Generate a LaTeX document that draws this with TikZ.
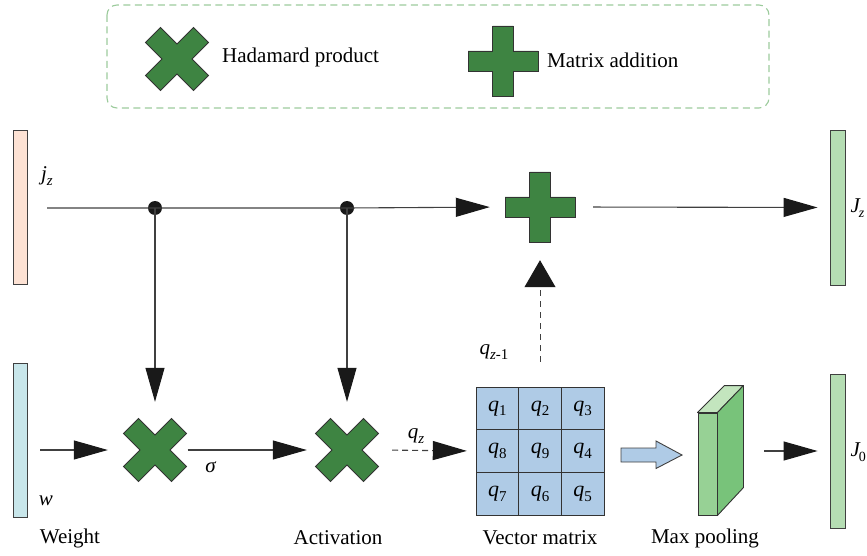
\documentclass[tikz,border=0pt]{standalone}
\usepackage{fontspec}
\setmainfont{Liberation Serif}
\usetikzlibrary{arrows.meta}
\definecolor{crossgreen}{HTML}{3E8442}
\definecolor{legendgreen}{HTML}{9CCB9C}
\definecolor{peach}{HTML}{FDE2D4}
\definecolor{cyanbar}{HTML}{C8E6EA}
\definecolor{greenbar}{HTML}{B5DDB3}
\definecolor{cellblue}{HTML}{AFCBE6}
\definecolor{poolfront}{HTML}{97D195}
\definecolor{poolside}{HTML}{78C37A}
\definecolor{pooltop}{HTML}{C3E5BE}
\definecolor{linegray}{HTML}{404040}
\newcommand\lbl[2]{\textit{#1}\raisebox{-0.22em}{\fontsize{15}{15}\selectfont #2}}
\newcommand\lblJ[2]{\textit{#1}\kern-2pt\raisebox{-0.22em}{\fontsize{14}{14}\selectfont #2}}
\tikzset{
  glyph/.style={fill=crossgreen,draw=black!80,line width=0.9pt,line join=miter},
  holder/.style={draw=none,minimum size=#1,inner sep=0pt},
  bar/.style={draw=black!75,line width=0.9pt,minimum width=14pt,minimum height=154pt,inner sep=0pt},
  txt/.style={font=\fontsize{21}{25}\selectfont,inner sep=0pt},
  cell/.style={draw=black!80,line width=0.9pt,fill=cellblue,minimum size=42.67pt,inner sep=0pt,font=\fontsize{22}{25}\selectfont},
  conn/.style={draw=linegray,line width=1.1pt},
  tip/.style={-{Triangle[length=34pt,width=19pt,color=black!90]}},
  uptip/.style={-{Triangle[length=27pt,width=31pt,color=black!90]}},
  dot/.style={circle,fill=black!90,inner sep=0pt,minimum size=14pt},
}
\newcommand\hadX[1]{%
\begin{scope}[shift={(#1.center)},rotate=45]
\draw[glyph] (10.6,34)--(10.6,10.6)--(34,10.6)--(34,-10.6)--(10.6,-10.6)--(10.6,-34)--(-10.6,-34)--(-10.6,-10.6)--(-34,-10.6)--(-34,10.6)--(-10.6,10.6)--(-10.6,34)--cycle;
\end{scope}}
\newcommand\addP[1]{%
\begin{scope}[shift={(#1.center)}]
\draw[glyph] (10.3,35)--(10.3,10)--(35,10)--(35,-10)--(10.3,-10)--(10.3,-35)--(-10.3,-35)--(-10.3,-10)--(-35,-10)--(-35,10)--(-10.3,10)--(-10.3,35)--cycle;
\end{scope}}
\begin{document}
\begin{tikzpicture}[x=1pt,y=-1pt]
\useasboundingbox (0,0) rectangle (867,556);
% legend
\draw[legendgreen,line width=1.1pt,dash pattern=on 7pt off 4.5pt,rounded corners=10pt] (107,5) rectangle (769,108);
\node[holder=64pt] (LX) at (177,59) {};
\hadX{LX}
\node[txt,anchor=west] (LXt) at (222,57) {Hadamard product};
\node[holder=70pt] (LP) at (503,61) {};
\addP{LP}
\node[txt,anchor=west] (LPt) at (547,60) {Matrix addition};
% bars
\node[bar,fill=peach] (jbar) at (20,207) {};
\node[bar,fill=cyanbar] (wbar) at (20,440) {};
\node[bar,fill=greenbar,minimum width=15pt,minimum height=155pt] (Jz) at (837.5,207.5) {};
\node[bar,fill=greenbar,minimum width=15pt] (J0) at (837.5,451) {};
\node[txt] (jzl) at (47,176) {\lbl{j}{\textit{z}}};
\node[txt] (wl) at (46,501) {\textit{w}};
\node[txt,anchor=west] (Jzl) at (850.5,208) {\lblJ{J}{\textit{z}}};
\node[txt,anchor=west] (J0l) at (850.5,452) {\lblJ{J}{0}};
% top line
\coordinate (tstart) at (47,208);
\node[dot] (d1) at (155,208) {};
\node[dot] (d2) at (347,208) {};
\node[holder=70pt] (P) at (540,207) {};
\addP{P}
\draw[conn,tip,shorten >=15pt] (tstart) -- (d1.center) -- (d2.center) -- (P.west);
\draw[conn,tip,shorten <=18pt,shorten >=12pt] (P.east) -- (Jz.west);
% bottom row
\coordinate (bstart) at (40,450);
\node[holder=63pt] (X1) at (155,450) {};
\node[holder=63pt] (X2) at (347,450) {};
\hadX{X1}
\hadX{X2}
\draw[conn,tip,shorten >=16.5pt] (d1.center) -- (X1.north);
\draw[conn,tip,shorten >=16.5pt] (d2.center) -- (X2.north);
\draw[conn,tip,shorten >=15.5pt] (bstart) -- (X1.west);
\draw[conn,tip,shorten <=1pt,shorten >=8.5pt] (X1.east) -- (X2.west);
\node[txt] (sig) at (211,467) {\textit{σ}};
% matrix
\node[holder=128pt] (mat) at (540,451) {};
\node[cell] (c11) at (497.33,408.33) {\lbl{q}{1}};
\node[cell] (c12) at (540,408.33) {\lbl{q}{2}};
\node[cell] (c13) at (582.67,408.33) {\lbl{q}{3}};
\node[cell] (c21) at (497.33,451) {\lbl{q}{8}};
\node[cell] (c22) at (540,451) {\lbl{q}{9}};
\node[cell] (c23) at (582.67,451) {\lbl{q}{4}};
\node[cell] (c31) at (497.33,493.67) {\lbl{q}{7}};
\node[cell] (c32) at (540,493.67) {\lbl{q}{6}};
\node[cell] (c33) at (582.67,493.67) {\lbl{q}{5}};
\draw[conn,dash pattern=on 6pt off 4pt,tip,shorten <=13.5pt,shorten >=9pt] (X2.east) -- (mat.west);
\node[txt] (qz) at (416,436) {\lbl{q}{\textit{z}}};
\draw[conn,line width=1pt,dash pattern=on 6pt off 5pt,uptip,shorten <=25pt,shorten >=18pt] (mat.north) -- (P.south);
\node[txt] (qz1) at (494,352) {\lbl{q}{\textit{z}-1}};
% block arrow
\draw[draw=black!75,line width=0.9pt,fill=cellblue] (621,448) -- (656,448) -- (656,441) -- (682,455) -- (656,468.5) -- (656,462) -- (621,462) -- cycle;
% max pooling
\node[draw=black!80,line width=0.9pt,fill=poolfront,minimum width=19pt,minimum height=102pt,inner sep=0pt] (pool) at (707.5,464) {};
\draw[draw=black!80,line width=0.9pt,fill=pooltop,line join=round] (pool.north west) -- (pool.north east) -- ++(26,-27) -- ++(-19,0) -- cycle;
\draw[draw=black!80,line width=0.9pt,fill=poolside,line join=round] (pool.north east) -- ++(26,-27) -- ++(0,102) -- (pool.south east) -- cycle;
\coordinate (poolr) at (743,451);
\draw[conn,tip,shorten <=21pt,shorten >=12pt] (poolr) -- (J0.west);
% captions
\node[txt] (cw) at (70,538) {Weight};
\node[txt] (ca) at (338,538) {Activation};
\node[txt] (cv) at (540,538) {Vector matrix};
\node[txt] (cm) at (705,538) {Max pooling};
\end{tikzpicture}
\end{document}
